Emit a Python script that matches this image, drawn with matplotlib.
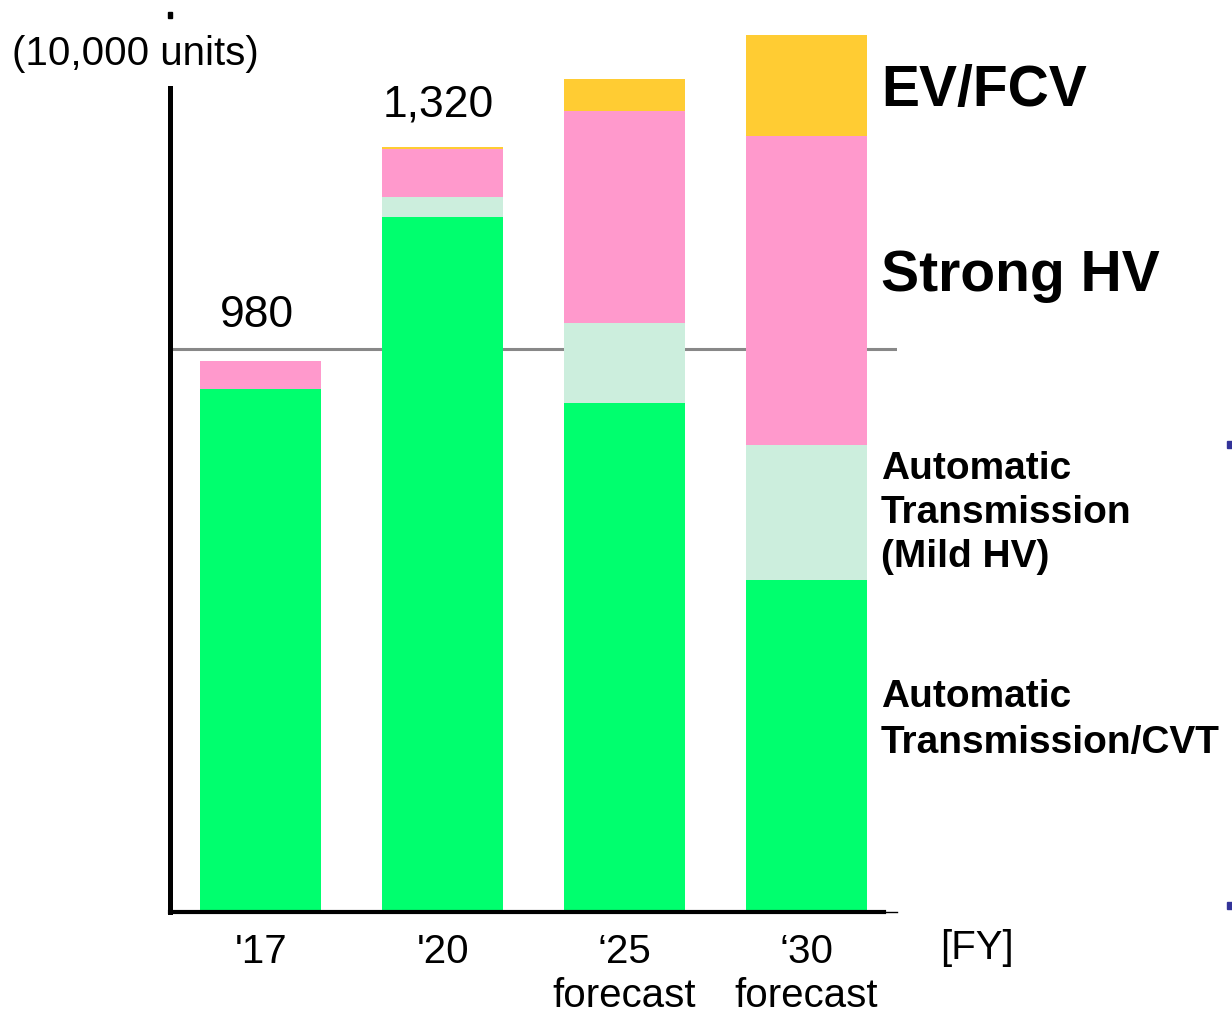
import numpy as np
import matplotlib.pyplot as plt
from matplotlib.patches import Rectangle

plt.rcParams['font.family'] = ['Liberation Sans', 'DejaVu Sans']

# values in 10,000 units
years = ["'17", "'20", "\u201825\nforecast", "\u201830\nforecast"]
at_cvt = [902, 1199, 878, 573]
mild_hv = [0, 35, 138, 233]
strong_hv = [48, 83, 366, 533]
ev_fcv = [0, 3, 55, 174]
total_labels = ["980", "1,320", "", ""]
ref_level = 971

colors = {
    'at': '#00FF6E',
    'mild': '#CCEEDD',
    'strong': '#FF99CC',
    'ev': '#FFCC33',
}

fig = plt.figure(figsize=(12.32, 10.16), dpi=100)
W, H = 1232, 1016
ax = fig.add_axes([170 / W, 1 - 912 / H, (897 - 170) / W, (912 - 20) / H])

x = np.arange(len(years))
w = 0.666
bottom = np.zeros(len(years))
for vals, key in [(at_cvt, 'at'), (mild_hv, 'mild'), (strong_hv, 'strong'), (ev_fcv, 'ev')]:
    ax.bar(x, vals, w, bottom=bottom, color=colors[key], linewidth=0, zorder=2)
    bottom += np.array(vals)

ax.axhline(ref_level, color='#888888', linewidth=2.2, zorder=1)

for xi, tot, lab, dy in zip(x, bottom, total_labels, [25, 22, 0, 0]):
    if lab:
        ax.annotate(lab, (xi, tot), xytext=(-3, dy), textcoords='offset points',
                    ha='center', va='baseline', fontsize=32)

ax.set_xlim(-0.5, 3.5)
ax.set_ylim(0, 1539)
ax.set_xticks(x)
ax.set_xticklabels(years, fontsize=29, linespacing=1.22)
ax.tick_params(axis='x', length=0, pad=15)
ax.set_yticks([])

for s in ['top', 'right']:
    ax.spines[s].set_visible(False)
ax.spines['left'].set_linewidth(3.6)
ax.spines['left'].set_bounds(0, 1422)
ax.spines['bottom'].set_linewidth(3)
ax.spines['bottom'].set_bounds(-0.5, 3.43)
ax.plot([3.43, 3.5], [0, 0], color='black', linewidth=1, clip_on=False, zorder=3)

fig.text(12 / W, 1 - 54 / H, "(10,000 units)", fontsize=29, ha='left', va='center')
fig.text(940 / W, 1 - 948 / H, "[FY]", fontsize=29, ha='left', va='center')
fig.patches.append(Rectangle((168 / W, 1 - 18 / H), 4 / W, 6 / H, transform=fig.transFigure,
                             color='black'))

fig.text(881 / W, 1 - 91 / H, "EV/FCV", fontsize=41, fontweight='bold', ha='left', va='center')
fig.text(881 / W, 1 - 276 / H, "Strong HV", fontsize=41, fontweight='bold', ha='left', va='center')
fig.text(881 / W, 1 - 513 / H, "Automatic\nTransmission\n(Mild HV)", fontsize=28,
         fontweight='bold', ha='left', va='center', linespacing=1.28)
fig.text(881 / W, 1 - 720 / H, "Automatic\nTransmission/CVT", fontsize=28,
         fontweight='bold', ha='left', va='center', linespacing=1.35)

# clipped markers at right edge
for yp in [441, 902]:
    fig.patches.append(Rectangle((1227 / W, 1 - (yp + 7) / H), 5 / W, 7 / H,
                                 transform=fig.transFigure, color='#333399'))

fig.savefig('out.png', dpi=100)
